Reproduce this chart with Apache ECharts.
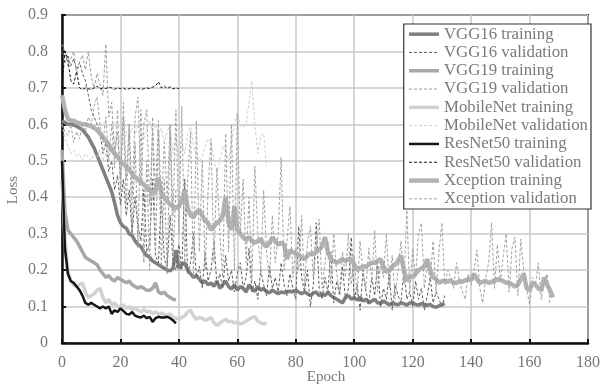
<!DOCTYPE html>
<html>
<head>
<meta charset="utf-8">
<script src="https://cdn.jsdelivr.net/npm/echarts@6/dist/echarts.min.js"></script>
<style>
  html, body { margin: 0; padding: 0; background: #fff; }
  #chart { width: 603px; height: 385px; }
</style>
</head>
<body>
<div id="chart"></div>
<script>
// loss per epoch (index = epoch)
const vgg16Train = [
  0.61, 0.605, 0.60, 0.60, 0.598, 0.595, 0.59, 0.585, 0.575, 0.565,
  0.55, 0.535, 0.515, 0.495, 0.475, 0.455, 0.435, 0.415, 0.385, 0.35,
  0.33, 0.32, 0.315, 0.30, 0.295, 0.28, 0.27, 0.265, 0.25, 0.24,
  0.235, 0.225, 0.22, 0.215, 0.21, 0.205, 0.2, 0.198, 0.205, 0.255,
  0.205, 0.215, 0.22, 0.2, 0.19, 0.18, 0.185, 0.175, 0.165, 0.17,
  0.16, 0.165, 0.155, 0.17, 0.15, 0.16, 0.17, 0.155, 0.148, 0.16,
  0.145, 0.155, 0.15, 0.14, 0.16, 0.148, 0.142, 0.155, 0.145, 0.15,
  0.14, 0.138, 0.145, 0.14, 0.135, 0.14, 0.138, 0.14, 0.142, 0.14,
  0.145, 0.14, 0.135, 0.14, 0.135, 0.13, 0.137, 0.14, 0.13, 0.135,
  0.13, 0.14, 0.13, 0.125, 0.12, 0.115, 0.11, 0.125, 0.13, 0.12,
  0.125, 0.118, 0.125, 0.115, 0.12, 0.11, 0.115, 0.12, 0.11, 0.108,
  0.115, 0.11, 0.105, 0.11, 0.107, 0.105, 0.11, 0.108, 0.104, 0.11,
  0.11, 0.106, 0.104, 0.108, 0.105, 0.103, 0.106, 0.1, 0.098, 0.102, 0.105, 0.108
];
const vgg16Val = [
  0.80, 0.77, 0.79, 0.76, 0.78, 0.75, 0.77, 0.74, 0.72, 0.68,
  0.64, 0.62, 0.6, 0.58, 0.52, 0.55, 0.47, 0.5, 0.42, 0.46,
  0.38, 0.45, 0.35, 0.42, 0.3, 0.4, 0.32, 0.28, 0.42, 0.25,
  0.27, 0.45, 0.24, 0.22, 0.4, 0.23, 0.21, 0.35, 0.22, 0.2,
  0.27, 0.2, 0.45, 0.19, 0.22, 0.3, 0.18, 0.21, 0.15, 0.25,
  0.17, 0.2, 0.28, 0.16, 0.19, 0.15, 0.24, 0.17, 0.2, 0.14,
  0.19, 0.22, 0.15, 0.18, 0.26, 0.14, 0.17, 0.12, 0.2, 0.16,
  0.13, 0.21, 0.15, 0.18, 0.14, 0.22, 0.16, 0.13, 0.19, 0.15,
  0.12, 0.32, 0.18, 0.14, 0.2, 0.1, 0.16, 0.33, 0.15, 0.12,
  0.18, 0.14, 0.25, 0.11, 0.17, 0.13, 0.21, 0.12, 0.15, 0.29,
  0.12, 0.16, 0.09, 0.2, 0.14, 0.11, 0.18, 0.13, 0.22, 0.1,
  0.15, 0.12, 0.19, 0.09, 0.16, 0.13, 0.11, 0.2, 0.12, 0.14,
  0.1, 0.17, 0.12, 0.15, 0.09, 0.13, 0.18, 0.11, 0.14, 0.12, 0.1, 0.13
];
const vgg19Train = [
  0.53, 0.36, 0.31, 0.30, 0.29, 0.28, 0.265, 0.25, 0.235, 0.23,
  0.225, 0.22, 0.215, 0.2, 0.19, 0.18, 0.185, 0.175, 0.17, 0.18,
  0.175, 0.17, 0.165, 0.17, 0.16, 0.155, 0.15, 0.155, 0.15, 0.145,
  0.145, 0.15, 0.165, 0.14, 0.135, 0.14, 0.13, 0.125, 0.12, 0.118
];
const vgg19Val = [
  0.82, 0.8, 0.76, 0.78, 0.8, 0.74, 0.77, 0.79, 0.75, 0.8,
  0.73, 0.7, 0.74, 0.71, 0.68, 0.82, 0.62, 0.66, 0.52, 0.58,
  0.45, 0.62, 0.38, 0.6, 0.3, 0.55, 0.26, 0.64, 0.22, 0.5,
  0.2, 0.62, 0.25, 0.58, 0.21, 0.45, 0.19, 0.6, 0.24, 0.42
];
const mobileTrain = [
  0.45, 0.28, 0.2, 0.17, 0.16, 0.155, 0.16, 0.165, 0.14, 0.125,
  0.13, 0.135, 0.145, 0.15, 0.125, 0.11, 0.12, 0.105, 0.11, 0.1,
  0.1, 0.105, 0.095, 0.1, 0.09, 0.095, 0.09, 0.085, 0.092, 0.085,
  0.088, 0.08, 0.085, 0.08, 0.082, 0.078, 0.075, 0.08, 0.07, 0.068,
  0.065, 0.07, 0.075, 0.085, 0.09, 0.075, 0.065, 0.07, 0.068, 0.062,
  0.065, 0.07, 0.055, 0.048, 0.055, 0.06, 0.065, 0.058, 0.06, 0.055,
  0.058, 0.052, 0.055, 0.06, 0.065, 0.07, 0.072, 0.06, 0.055, 0.052, 0.055
];
const mobileVal = [
  0.6, 0.56, 0.54, 0.52, 0.53, 0.51, 0.52, 0.5, 0.52, 0.51,
  0.5, 0.52, 0.51, 0.53, 0.5, 0.52, 0.55, 0.53, 0.56, 0.54,
  0.57, 0.55, 0.58, 0.56, 0.59, 0.57, 0.6, 0.58, 0.56, 0.59,
  0.61, 0.58, 0.6, 0.57, 0.59, 0.55, 0.58, 0.6, 0.52, 0.57,
  0.49, 0.55, 0.52, 0.57, 0.6, 0.54, 0.52, 0.5, 0.51, 0.54,
  0.56, 0.55, 0.5, 0.47, 0.5, 0.54, 0.53, 0.5, 0.55, 0.6,
  0.63, 0.6, 0.59, 0.6, 0.66, 0.72, 0.6, 0.52, 0.57, 0.575, 0.485
];
const resnetTrain = [
  0.5, 0.26, 0.19, 0.17, 0.165, 0.155, 0.145, 0.13, 0.11, 0.105,
  0.11, 0.105, 0.1, 0.095, 0.1, 0.095, 0.1, 0.08, 0.09, 0.085,
  0.095, 0.088, 0.08, 0.078, 0.085, 0.075, 0.072, 0.07, 0.075, 0.068,
  0.072, 0.058, 0.068, 0.072, 0.07, 0.07, 0.072, 0.068, 0.062, 0.054
];
const resnetVal = [
  0.70, 0.8, 0.78, 0.72, 0.71, 0.745, 0.7, 0.695, 0.7, 0.698,
  0.695, 0.7, 0.705, 0.697, 0.7, 0.698, 0.702, 0.7, 0.696, 0.7,
  0.698, 0.7, 0.695, 0.698, 0.7, 0.697, 0.699, 0.695, 0.698, 0.7,
  0.698, 0.702, 0.705, 0.717, 0.7, 0.705, 0.698, 0.703, 0.697, 0.7, 0.698
];
const xceptionTrain = [
  0.68, 0.64, 0.615, 0.61, 0.61, 0.605, 0.603, 0.6, 0.6, 0.597,
  0.595, 0.59, 0.585, 0.575, 0.565, 0.555, 0.545, 0.53, 0.52, 0.51,
  0.5, 0.49, 0.485, 0.475, 0.465, 0.455, 0.45, 0.44, 0.435, 0.425,
  0.42, 0.41, 0.415, 0.455, 0.41, 0.4, 0.39, 0.38, 0.375, 0.37,
  0.375, 0.39, 0.42, 0.37, 0.35, 0.345, 0.36, 0.365, 0.35, 0.335,
  0.33, 0.31, 0.32, 0.33, 0.335, 0.35, 0.4, 0.33, 0.31, 0.375,
  0.31, 0.3, 0.29, 0.283, 0.29, 0.28, 0.275, 0.28, 0.285, 0.27,
  0.265, 0.275, 0.29, 0.28, 0.27, 0.275, 0.27, 0.23, 0.255, 0.25,
  0.245, 0.24, 0.235, 0.23, 0.24, 0.245, 0.245, 0.25, 0.255, 0.265,
  0.29, 0.25, 0.23, 0.225, 0.22, 0.225, 0.23, 0.225, 0.23, 0.23,
  0.215, 0.2, 0.205, 0.21, 0.21, 0.215, 0.22, 0.22, 0.225, 0.23,
  0.21, 0.195, 0.2, 0.21, 0.215, 0.225, 0.24, 0.2, 0.17, 0.185,
  0.18, 0.19, 0.2, 0.205, 0.21, 0.23, 0.2, 0.18, 0.175, 0.165,
  0.17, 0.17, 0.168, 0.172, 0.165, 0.165, 0.17, 0.168, 0.172, 0.175,
  0.173, 0.19, 0.175, 0.165, 0.168, 0.17, 0.165, 0.168, 0.17, 0.175,
  0.173, 0.17, 0.165, 0.165, 0.16, 0.155, 0.16, 0.175, 0.19, 0.15,
  0.145, 0.165, 0.16, 0.15, 0.145, 0.18, 0.16, 0.145, 0.125
];
const xceptionVal = [
  0.6, 0.58, 0.57, 0.6, 0.55, 0.58, 0.56, 0.6, 0.58, 0.62,
  0.6, 0.65, 0.675, 0.6, 0.55, 0.62, 0.5, 0.6, 0.48, 0.64,
  0.42, 0.66, 0.45, 0.6, 0.4, 0.62, 0.675, 0.44, 0.6, 0.64,
  0.38, 0.58, 0.42, 0.61, 0.36, 0.55, 0.4, 0.6, 0.35, 0.64,
  0.3, 0.65, 0.22, 0.45, 0.58, 0.18, 0.61, 0.25, 0.5, 0.2,
  0.42, 0.56, 0.22, 0.48, 0.3, 0.18, 0.575, 0.25, 0.6, 0.2,
  0.63, 0.3, 0.45, 0.22, 0.4, 0.17, 0.485, 0.3, 0.2, 0.42,
  0.25, 0.18, 0.35, 0.22, 0.3, 0.51, 0.2, 0.28, 0.375, 0.18,
  0.26, 0.2, 0.35, 0.15, 0.28, 0.32, 0.18, 0.26, 0.34, 0.15,
  0.22, 0.28, 0.16, 0.3, 0.19, 0.14, 0.25, 0.18, 0.3, 0.16,
  0.24, 0.13, 0.28, 0.19, 0.15, 0.26, 0.17, 0.31, 0.14, 0.22,
  0.18, 0.3, 0.15, 0.24, 0.12, 0.2, 0.28, 0.16, 0.365, 0.14,
  0.26, 0.18, 0.3, 0.33, 0.15, 0.22, 0.17, 0.28, 0.14, 0.25,
  0.33, 0.16, 0.2, 0.18, 0.15, 0.22, 0.17, 0.14, 0.12, 0.19,
  0.16, 0.2, 0.255, 0.15, 0.11, 0.18, 0.22, 0.33, 0.15, 0.27,
  0.17, 0.24, 0.3, 0.14, 0.26, 0.29, 0.13, 0.285, 0.2, 0.15,
  0.105, 0.18, 0.16, 0.22, 0.12, 0.17, 0.19, 0.105
];

const seriesDefs = [
  { name: "VGG16 training", data: vgg16Train, color: "#7f7f7f", width: 3.5, dashed: false },
  { name: "VGG16 validation", data: vgg16Val, color: "#5e5e5e", width: 1, dashed: true },
  { name: "VGG19 training", data: vgg19Train, color: "#a8a8a8", width: 3.5, dashed: false },
  { name: "VGG19 validation", data: vgg19Val, color: "#9a9a9a", width: 1, dashed: true },
  { name: "MobileNet training", data: mobileTrain, color: "#d2d2d2", width: 3.5, dashed: false },
  { name: "MobileNet validation", data: mobileVal, color: "#cfcfcf", width: 1, dashed: true },
  { name: "ResNet50 training", data: resnetTrain, color: "#161616", width: 2.5, dashed: false },
  { name: "ResNet50 validation", data: resnetVal, color: "#161616", width: 1, dashed: true },
  { name: "Xception training", data: xceptionTrain, color: "#b3b3b3", width: 4.5, dashed: false },
  { name: "Xception validation", data: xceptionVal, color: "#a2a2a2", width: 1, dashed: true }
];

const font = "Liberation Serif";
const chart = echarts.init(document.getElementById("chart"));

const option = {
  animation: false,
  backgroundColor: "#fff",
  grid: {
    left: 62, right: 13, top: 15, bottom: 42,
    show: true, borderColor: "#222", borderWidth: 2, backgroundColor: "transparent"
  },
  xAxis: {
    type: "value", min: 0, max: 180, interval: 20,
    axisLine: { lineStyle: { color: "#111", width: 2.5 } },
    axisTick: { inside: true, length: 4, lineStyle: { color: "#111", width: 2 } },
    axisLabel: { color: "#777", fontFamily: font, fontSize: 16, margin: 12 },
    splitLine: { lineStyle: { color: "#c8c8c8", width: 1.5 } }
  },
  yAxis: {
    type: "value", min: 0, max: 0.9, interval: 0.1,
    axisLine: { show: true, lineStyle: { color: "#111", width: 2.5 } },
    axisTick: { show: true, inside: true, length: 4, lineStyle: { color: "#111", width: 2 } },
    axisLabel: {
      color: "#777", fontFamily: font, fontSize: 16, margin: 14,
      formatter: v => (v === 0 ? "0" : v.toFixed(1))
    },
    splitLine: { lineStyle: { color: "#c8c8c8", width: 1.5 } }
  },
  legend: {
    orient: "vertical",
    right: 12, top: 24,
    padding: [1, 3, 1, 3],
    itemWidth: 30, itemHeight: 12, itemGap: 0,
    backgroundColor: "#fff",
    borderColor: "#333", borderWidth: 1.2,
    itemStyle: { opacity: 0 },
    lineStyle: { width: "inherit" },
    textStyle: { color: "#7a7a7a", fontFamily: font, fontSize: 16.8, lineHeight: 18.3 },
    data: seriesDefs.map(s => s.name)
  },
  graphic: [
    {
      type: "text", x: 13, y: 190, rotation: Math.PI / 2,
      style: { text: "Loss", fill: "#777", font: "15px " + font, align: "center", verticalAlign: "middle" }
    },
    {
      type: "text", x: 326, y: 377,
      style: { text: "Epoch", fill: "#777", font: "15px " + font, align: "center", verticalAlign: "middle" }
    }
  ],
  series: seriesDefs.map(s => ({
    name: s.name,
    type: "line",
    data: s.data.map((v, i) => [i, v]),
    showSymbol: false,
    symbol: "none",
    lineStyle: { color: s.color, width: s.width, type: s.dashed ? [3, 2] : "solid" },
    itemStyle: { color: s.color }
  }))
};

chart.setOption(option);
</script>
</body>
</html>
